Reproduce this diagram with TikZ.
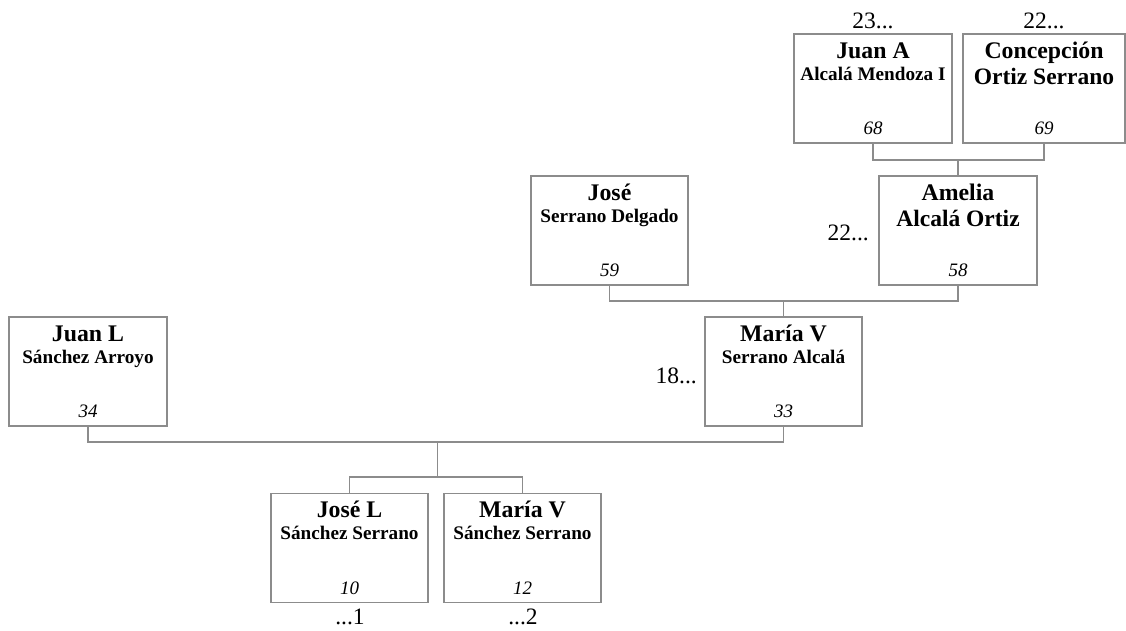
\documentclass[tikz,border=0pt]{standalone}
\usepackage{fontspec}
\setmainfont{Liberation Serif}
\definecolor{lc}{RGB}{140,140,140}
\tikzset{
  pbox/.style={draw=lc, line width=1.3pt, fill=white, rectangle, minimum height=109pt, inner sep=0pt},
  fname/.style={font=\fontsize{23.8}{25}\selectfont\bfseries, inner sep=0pt, anchor=base},
  sname/.style={font=\fontsize{19.2}{20}\selectfont\bfseries, inner sep=0pt, anchor=base},
  bname/.style={font=\fontsize{23.5}{25}\selectfont\bfseries, inner sep=0pt, anchor=base},
  pnum/.style={font=\fontsize{19}{20}\selectfont\itshape, inner sep=0pt, anchor=base},
  olab/.style={font=\fontsize{23.5}{25}\selectfont, inner sep=0pt},
  conn/.style={draw=lc, line width=1.3pt}
}
% #1 name, #2 x, #3 y, #4 width, #5 first, #6 last, #7 number, #8 surname style, #9 surname offset
\newcommand\famperson[9]{%
  \node[pbox, minimum width=#4pt] (#1) at (#2,#3) {};
  \node[fname] (#1-n) at ([yshift=-25pt]#1.north) {#5};
  \node[#8] (#1-s) at ([yshift=-#9pt]#1.north) {#6};
  \node[pnum] (#1-d) at ([yshift=9pt]#1.south) {#7};
}
\begin{document}
\begin{tikzpicture}[x=1pt, y=-1pt]
\useasboundingbox (0,0) rectangle (1126,630);
\famperson{ja}{873}{88.5}{158}{Juan A}{Alcalá Mendoza I}{68}{sname}{47}
\famperson{co}{1044}{88.5}{162}{Concepción}{Ortiz Serrano}{69}{bname}{51}
\famperson{am}{958}{230.5}{158}{Amelia}{Alcalá Ortiz}{58}{bname}{51}
\famperson{jo}{609.5}{230.5}{157}{José}{Serrano Delgado}{59}{sname}{47}
\famperson{mv}{783.5}{371.5}{157}{María V}{Serrano Alcalá}{33}{sname}{47}
\famperson{jl}{88}{371.5}{158}{Juan L}{Sánchez Arroyo}{34}{sname}{47}
\famperson{jsl}{349.5}{548}{157}{José L}{Sánchez Serrano}{10}{sname}{47}
\famperson{mvs}{522.5}{548}{157}{María V}{Sánchez Serrano}{12}{sname}{47}

% outside labels
\node[olab, anchor=base] (t23) at (873,28) {23...};
\node[olab, anchor=base] (t22) at (1044,28) {22...};
\node[olab, anchor=base east] (s22) at (869,240) {22...};
\node[olab, anchor=base east] (s18) at (697,383) {18...};
\node[olab, anchor=base] (b1) at (350,624) {...1};
\node[olab, anchor=base] (b2) at (523,624) {...2};

% connectors
\coordinate (c1) at (am.north |- 0,160);
\draw[conn] (ja.south) |- (c1) -| (co.south);
\draw[conn] (c1) -- (am.north);
\coordinate (c2) at (mv.north |- 0,301);
\draw[conn] (jo.south) |- (c2) -| (am.south);
\draw[conn] (c2) -- (mv.north);
\coordinate (c3) at (437.5,442);
\coordinate (c4) at (437.5,477);
\draw[conn] (jl.south) |- (c3) -| (mv.south);
\draw[conn] (c3) -- (c4);
\draw[conn] (jsl.north) |- (c4) -| (mvs.north);
\end{tikzpicture}
\end{document}
